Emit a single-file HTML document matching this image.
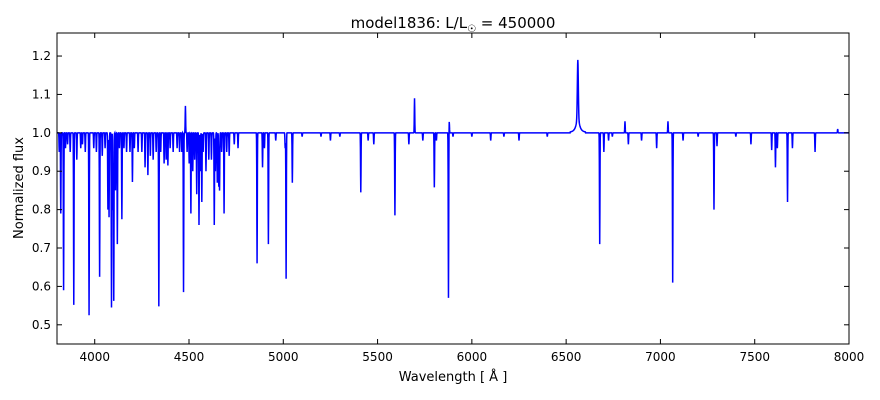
<!DOCTYPE html>
<html><head><meta charset="utf-8">
<style>
html,body{margin:0;padding:0;background:#fff;}
svg{display:block;font-family:"DejaVu Sans","Liberation Sans",sans-serif;}
</style></head>
<body>
<svg id="chart" width="880" height="400" viewBox="0 0 880 400" xmlns="http://www.w3.org/2000/svg">
<rect width="880" height="400" fill="#fff"/>
<text x="453" y="28" font-size="15" text-anchor="middle">model1836: L/L<tspan font-size="10" dy="4">☉</tspan><tspan dy="-4"> = 450000</tspan></text>
<g id="plot"></g>
<text x="453" y="381" font-size="13" text-anchor="middle">Wavelength [ Å ]</text>
<text x="23" y="188" font-size="13" text-anchor="middle" transform="rotate(-90 23 188)">Normalized flux</text>
</svg>
<script>
const xTicks = [4000,4500,5000,5500,6000,6500,7000,7500,8000];
const yTicks = [0.5,0.6,0.7,0.8,0.9,1.0,1.1,1.2];
// absorption/emission lines: wavelength (Å), flux at line centre
const lineWave = [3812,3820,3835,3845,3856,3870,3889,3905,3926,3935,3950,3970,3995,4009,4026,4040,4055,4070,4076,4089,4097,4101,4110,4120,4131,4144,4155,4169,4187,4200,4210,4230,4250,4267,4282,4295,4310,4326,4340,4350,4368,4379,4388,4400,4416,4437,4450,4462,4471,4481,4490,4501,4510,4520,4530,4541,4553,4560,4568,4575,4590,4605,4619,4634,4640,4650,4658,4662,4673,4686,4700,4713,4740,4760,4861,4890,4900,4921,4960,5010,5015,5048,5100,5200,5250,5300,5411,5450,5480,5592,5666,5696,5740,5801,5812,5876,5880,5900,6000,6100,6170,6250,6400,6562,6678,6700,6725,6745,6812,6830,6900,6980,7040,7065,7120,7200,7284,7300,7400,7480,7590,7610,7620,7674,7700,7820,7940];
const lineFlux = [0.95,0.79,0.59,0.96,0.97,0.95,0.552,0.93,0.96,0.97,0.95,0.525,0.96,0.95,0.625,0.94,0.96,0.80,0.78,0.545,0.80,0.563,0.85,0.71,0.96,0.775,0.96,0.95,0.95,0.872,0.96,0.95,0.95,0.91,0.89,0.94,0.93,0.95,0.548,0.95,0.92,0.93,0.915,0.96,0.95,0.96,0.95,0.95,0.585,1.07,0.95,0.92,0.79,0.90,0.93,0.84,0.76,0.90,0.82,0.95,0.90,0.93,0.93,0.76,0.90,0.87,0.86,0.85,0.95,0.79,0.95,0.94,0.97,0.96,0.66,0.91,0.96,0.71,0.98,0.96,0.62,0.87,0.99,0.99,0.98,0.99,0.845,0.98,0.97,0.785,0.97,1.09,0.98,0.858,0.98,0.57,1.03,0.99,0.99,0.98,0.99,0.98,0.99,1.15,0.71,0.95,0.98,0.99,1.03,0.97,0.98,0.96,1.03,0.61,0.98,0.99,0.80,0.965,0.99,0.97,0.955,0.91,0.96,0.82,0.96,0.95,1.01];
const xMin=3800,xMax=8000,yMin=0.45,yMax=1.26;
const L=57,R=849,T=33,B=344;
const X=w=>L+(w-xMin)/(xMax-xMin)*(R-L);
const Y=f=>B-(f-yMin)/(yMax-yMin)*(B-T);
const NS="http://www.w3.org/2000/svg";
const plot=document.getElementById('plot');
function mk(tag,attrs){const e=document.createElementNS(NS,tag);for(const k in attrs)e.setAttribute(k,attrs[k]);return e;}
let d="";
for(let w=xMin;w<=xMax;w+=1){
  let f=1;
  for(let i=0;i<lineWave.length;i++){
    const dw=w-lineWave[i];
    const isHa=lineWave[i]===6562;
    const s=isHa?2.5:1.2;
    if(Math.abs(dw)>40)continue;
    f+=(lineFlux[i]-1)*Math.exp(-dw*dw/(2*s*s));
    if(isHa) f+=0.04/(1+(dw/10)*(dw/10));
  }
  d+=(d?"L":"M")+X(w).toFixed(2)+","+Y(f).toFixed(2);
}
const clip=mk('clipPath',{id:'pc'});clip.appendChild(mk('rect',{x:L,y:T,width:R-L,height:B-T}));plot.appendChild(clip);
const path=mk('path',{d:d,fill:'none',stroke:'#0000ff','stroke-width':1.5,'clip-path':'url(#pc)'});


plot.appendChild(path);
const frame=mk('rect',{x:L,y:T,width:R-L,height:B-T,fill:'none',stroke:'#000','stroke-width':1});


plot.appendChild(frame);
xTicks.forEach(t=>{
  const x=X(t);
  plot.appendChild(mk('line',{x1:x,x2:x,y1:B,y2:B-5,stroke:'#000'}));
  plot.appendChild(mk('line',{x1:x,x2:x,y1:T,y2:T+5,stroke:'#000'}));
  const tx=mk('text',{x:x,y:B+17,'font-size':12,'text-anchor':'middle'});tx.textContent=t;
  
  
  plot.appendChild(tx);
});
yTicks.forEach(t=>{
  const y=Y(t);
  plot.appendChild(mk('line',{x1:L,x2:L+5,y1:y,y2:y,stroke:'#000'}));
  plot.appendChild(mk('line',{x1:R,x2:R-5,y1:y,y2:y,stroke:'#000'}));
  const tx=mk('text',{x:L-6,y:y+4,'font-size':12,'text-anchor':'end'});tx.textContent=t.toFixed(1);
  
  
  plot.appendChild(tx);
});
</script>
</body></html>
